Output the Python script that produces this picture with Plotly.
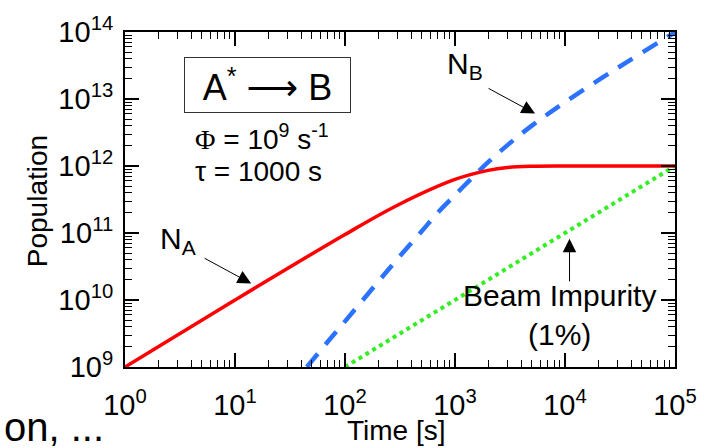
import plotly.graph_objects as go

# Data
t_A = [1, 10, 100, 300, 1000, 2000, 3000, 5000, 10000, 100000]
N_A = [1e9, 1e10, 9.5e10, 2.6e11, 6.3e11, 8.6e11, 9.5e11, 9.9e11, 1.0e12, 1.0e12]

t_B = [45, 70, 100, 200, 300, 500, 700, 1000, 1500, 2000, 3000, 5000, 10000, 30000, 100000]
N_B = [1.0e9, 2.4e9, 4.8e9, 1.87e10, 4.1e10, 1.07e11, 2.03e11, 3.68e11, 7.2e11,
       1.14e12, 2.05e12, 4.0e12, 9.0e12, 2.9e13, 9.9e13]

t_imp = [100, 1000, 10000, 100000]
N_imp = [1e9, 1e10, 1e11, 1e12]

x_ticks = [1, 10, 100, 1000, 10000, 100000]
x_ticklabels = ["10<sup>0</sup>", "10<sup>1</sup>", "10<sup>2</sup>", "10<sup>3</sup>",
                "10<sup>4</sup>", "10<sup>5</sup>"]
y_ticks = [1e9, 1e10, 1e11, 1e12, 1e13, 1e14]
y_ticklabels = ["10<sup>9</sup>", "10<sup>10</sup>", "10<sup>11</sup>", "10<sup>12</sup>",
                "10<sup>13</sup>", "10<sup>14</sup>"]

FONT = "Liberation Sans, Arial, sans-serif"

minor_x = [m * 10 ** k for k in range(0, 5) for m in range(2, 10)]
minor_y = [m * 10 ** k for k in range(9, 14) for m in range(2, 10)]

fig = go.Figure()
fig.add_trace(go.Scatter(x=t_imp, y=N_imp, mode="lines",
                         line=dict(color="#33ee22", width=4, dash="4px,4px")))
fig.add_trace(go.Scatter(x=t_B, y=N_B, mode="lines", line_shape="spline",
                         line=dict(color="#2a72ff", width=4.5, dash="17px,12px")))
fig.add_trace(go.Scatter(x=t_A, y=N_A, mode="lines", line_shape="spline",
                         line=dict(color="#ff0000", width=3.5)))

axis_common = dict(
    type="log", showgrid=False, zeroline=False, showline=True,
    linecolor="black", linewidth=2, mirror="allticks",
    ticks="inside", ticklen=14, tickwidth=1.5, tickcolor="black",
    tickfont=dict(family=FONT, size=29, color="black"),
)

fig.update_xaxes(**axis_common, range=[0, 5], tickmode="array",
                 tickvals=x_ticks, ticktext=x_ticklabels, ticklabelstandoff=11,
                 minor=dict(ticks="inside", ticklen=7, tickwidth=1.2,
                            tickcolor="black", tickvals=minor_x, showgrid=False))
fig.update_yaxes(**axis_common, range=[9, 14], tickmode="array",
                 tickvals=y_ticks, ticktext=y_ticklabels, ticklabelstandoff=4,
                 minor=dict(ticks="inside", ticklen=7, tickwidth=1.2,
                            tickcolor="black", tickvals=minor_y, showgrid=False))

W, H = 709, 448
L, R, T, B = 125, 26, 22, 81
pw, ph = W - L - R, H - T - B


def px(x):
    return (x - L) / pw


def py(y):
    return (H - B - y) / ph


def text_ann(text, x, y, size, xanchor="center", **kw):
    d = dict(text=text, x=px(x), y=py(y), xref="paper", yref="paper",
             xanchor=xanchor, yanchor="middle", showarrow=False,
             font=dict(family=FONT, size=size, color="black"))
    d.update(kw)
    return d


ARROW = "<span style='font-family:DejaVu Sans'>\u27f6</span>"

ann = []
ann.append(text_ann("Population", 37, 196, 28, textangle=-90))
ann.append(text_ann("Time [s]", 400, 432, 28))
ann.append(text_ann("on, ...", 0, 429, 40, xanchor="left"))
ann.append(text_ann("A<sup>*</sup> " + ARROW + " B", 270, 77, 36, width=165, height=54,
                    bordercolor="#333", borderwidth=1, borderpad=0, bgcolor="white"))
ann.append(text_ann("<span style='font-family:Liberation Serif, serif'>\u03a6</span> = 10<sup>9</sup> s<sup>-1</sup>",
                    194, 130, 28, xanchor="left"))
ann.append(text_ann("\u03c4 = 1000 s", 194, 166, 28, xanchor="left"))
ann.append(text_ann("N<sub>A</sub>", 158, 237, 30, xanchor="left"))
ann.append(text_ann("N<sub>B</sub>", 450, 57, 30, xanchor="left"))
ann.append(text_ann("Beam Impurity<br>(1%)", 566, 313, 30))

arrow_style = dict(showarrow=True, arrowhead=2, arrowsize=2.7, arrowwidth=1,
                   arrowcolor="black", text="", xref="x", yref="y")
ann.append(dict(x=(253 - L) / (pw / 5), y=9 + (H - B - 281) / (ph / 5),
                ax=-48, ay=-26, **arrow_style))
ann.append(dict(x=(541 - L) / (pw / 5), y=9 + (H - B - 106) / (ph / 5),
                ax=-48, ay=-26, **arrow_style))
ann.append(dict(x=(576 - L) / (pw / 5), y=9 + (H - B - 235) / (ph / 5),
                ax=0, ay=44, **arrow_style))

fig.update_layout(
    width=W, height=H, margin=dict(l=L, r=R, t=T, b=B),
    paper_bgcolor="white", plot_bgcolor="white", showlegend=False,
    annotations=ann, font=dict(family=FONT, color="black"),
)

fig.write_html("out.html")
